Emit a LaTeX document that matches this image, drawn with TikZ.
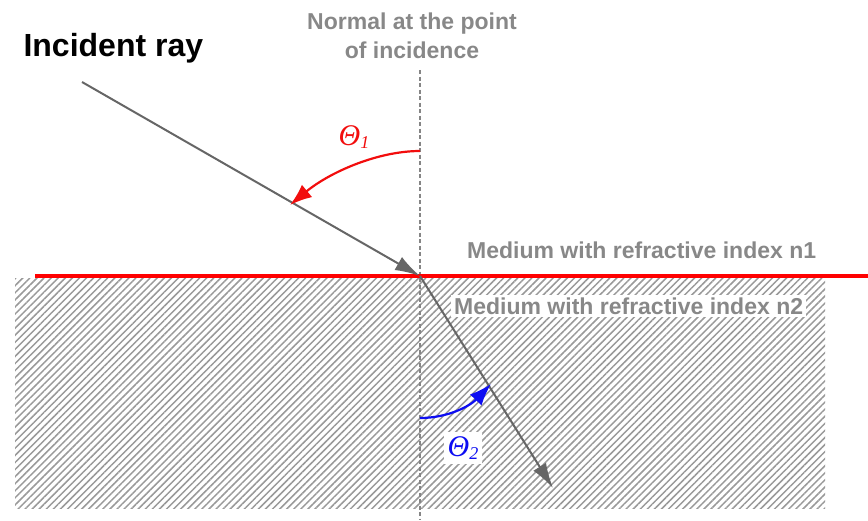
\documentclass[tikz,border=0pt]{standalone}
\usepackage{fontspec}
\setmainfont{Liberation Sans}
\newfontfamily\anglefont{Liberation Serif}
\usetikzlibrary{arrows.meta,patterns.meta}
\definecolor{raygray}{HTML}{666666}
\definecolor{labelgray}{HTML}{888888}
\definecolor{surfacered}{HTML}{FF0000}
\definecolor{anglered}{HTML}{F20D0D}
\definecolor{angleblue}{HTML}{0D0DF2}
\newcommand{\anglename}[1]{{\anglefont\itshape Θ\raisebox{-0.25ex}{\fontsize{18}{18}\selectfont #1}}}
\tikzset{
  ray/.style={raygray,line width=2pt,-{Latex[length=25pt,width=15pt]}},
  normalline/.style={raygray!80,line width=1.4pt,dash pattern=on 4pt off 2.5pt},
  interface/.style={surfacered,line width=4pt},
  anglearrow/.style={line width=2.2pt,-{Latex[length=22pt,width=16pt]}},
  medium/.style={labelgray,font=\fontsize{23}{27}\selectfont\bfseries,anchor=west,inner sep=3pt},
  anglelabel/.style={font=\fontsize{30}{34}\selectfont,inner sep=4pt}
}

\begin{document}
\begin{tikzpicture}[x=1pt,y=-1pt]
  \useasboundingbox (0,0) rectangle (868,520);
  \fill[pattern={Lines[angle=45,distance=5pt,line width=1.5pt]},pattern color=gray!80] (15,278) rectangle (825,508);
  \coordinate (hit) at (420,276);
  \coordinate (source) at (82,82);
  \coordinate (exit) at (553,488);
  \coordinate (normaltop) at (420,70);
  \coordinate (normalbottom) at (420,520);
  \coordinate (surfaceleft) at (35,276);
  \coordinate (surfaceright) at (868,276);
  \node[labelgray,font=\fontsize{23}{29}\selectfont\bfseries,align=center] (normaltext) at (412,36) {Normal at the point\\of incidence};
  \node[font=\fontsize{32}{36}\selectfont\bfseries,anchor=west] (incident) at (20,48) {Incident ray};
  \node[medium] (mediumone) at (464,250) {Medium with refractive index n1};
  \node[medium,fill=white] (mediumtwo) at (451,306) {Medium with refractive index n2};
  \draw[normalline] (normaltop) -- (normalbottom);
  \draw[interface] (surfaceleft) -- (surfaceright);
  \draw[ray] (source) -- (hit);
  \draw[ray] (hit) -- (exit);
  \coordinate (startone) at (420,151);
  \coordinate (endone) at (290,205);
  \coordinate (starttwo) at (420,418);
  \coordinate (endtwo) at (491,384);
  \draw[anglearrow,anglered] (startone) .. controls (378,151) and (330,172) .. (endone);
  \draw[anglearrow,angleblue] (starttwo) .. controls (448,418) and (470,406) .. (endtwo);
  \node[anglelabel,anglered] (thetaone) at (354,137) {\anglename{1}};
  \node[anglelabel,angleblue,fill=white] (thetatwo) at (463,448) {\anglename{2}};
\end{tikzpicture}
\end{document}
